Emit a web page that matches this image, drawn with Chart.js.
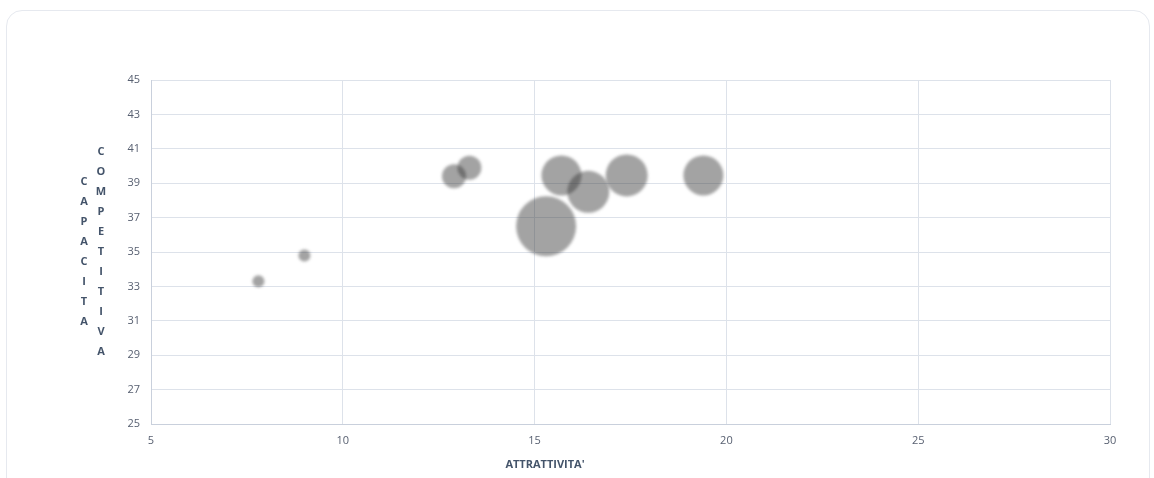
<!DOCTYPE html>
<html>
<head>
<meta charset="utf-8">
<script src="https://cdn.jsdelivr.net/npm/chart.js@4/dist/chart.umd.min.js"></script>
<style>
  html, body { margin: 0; padding: 0; background: #fff; }
  .card { position: absolute; left: 6px; top: 10px; width: 1144px; height: 490px;
          border: 1px solid #e6e9ef; border-radius: 16px; box-sizing: border-box; }
  #chart { position: absolute; left: 0; top: 0; }
</style>
</head>
<body>
<div class="card"></div>
<canvas id="chart" width="1154" height="478"></canvas>
<script>
// dati del grafico (attrattività / capacità competitiva / dimensione)
const attrattivita = [7.8, 9.0, 12.9, 13.3, 15.3, 15.7, 16.4, 17.4, 19.4];
const capacita     = [33.3, 34.8, 39.4, 39.9, 36.5, 39.45, 38.5, 39.45, 39.45];
const dimensione   = [6, 6, 12, 12, 30, 20, 21, 21, 20];

const xTicks = [5, 10, 15, 20, 25, 30];
const yTicks = [25, 27, 29, 31, 33, 35, 37, 39, 41, 43, 45];

const titoloY1 = 'CAPACITA';
const titoloY2 = 'COMPETITIVA';
const titoloX = "ATTRATTIVITA'";

const punti = attrattivita.map((x, i) => ({ x: x, y: capacita[i], r: dimensione[i] }));

const sfocatura = {
    id: 'sfocatura',
    beforeDatasetsDraw(chart) {
        chart.ctx.save();
        chart.ctx.filter = 'blur(1.5px)';
    },
    afterDatasetsDraw(chart) {
        chart.ctx.restore();
    }
};

const titoli = {
    id: 'titoli',
    afterDraw(chart) {
        const ctx = chart.ctx;
        const area = chart.chartArea;
        ctx.save();
        ctx.fillStyle = '#44546a';
        ctx.font = 'bold 11px "Open Sans", sans-serif';
        ctx.textAlign = 'center';
        ctx.textBaseline = 'middle';
        const centro = (area.top + area.bottom) / 2;
        const passo = 20;
        [[titoloY1, 84], [titoloY2, 101]].forEach(([t, x]) => {
            const start = centro - (t.length - 1) * passo / 2;
            for (let i = 0; i < t.length; i++) {
                ctx.fillText(t[i], x, start + i * passo);
            }
        });
        ctx.fillText(titoloX, 545, 465);
        ctx.restore();
    }
};

const ctx = document.getElementById('chart').getContext('2d');
new Chart(ctx, {
    type: 'bubble',
    data: {
        datasets: [{
            label: 'Aree',
            data: punti,
            backgroundColor: 'rgba(50, 50, 50, 0.45)',
            borderWidth: 0,
            hoverBorderWidth: 0
        }]
    },
    options: {
        responsive: false,
        animation: false,
        devicePixelRatio: 1,
        layout: { padding: { left: 0, right: 44, top: 80, bottom: 0 } },
        plugins: {
            legend: { display: false },
            tooltip: { enabled: false },
            title: { display: false }
        },
        scales: {
            x: {
                type: 'linear',
                min: 5, max: 30,
                afterFit: s => { s.height = 54; },
                afterBuildTicks: s => { s.ticks = xTicks.map(v => ({ value: v })); },
                grid: { color: '#dde2ea', drawTicks: false },
                border: { color: '#c9d0dc' },
                ticks: { padding: 10, color: '#586071', font: { family: 'Open Sans', size: 11 } }
            },
            y: {
                type: 'linear',
                min: 25, max: 45,
                afterFit: s => { s.width = 151; },
                afterBuildTicks: s => { s.ticks = yTicks.map(v => ({ value: v })); },
                grid: { color: '#dde2ea', drawTicks: false },
                border: { color: '#c9d0dc' },
                ticks: { padding: 11, color: '#586071', font: { family: 'Open Sans', size: 11 } }
            }
        }
    },
    plugins: [sfocatura, titoli]
});
</script>
</body>
</html>
